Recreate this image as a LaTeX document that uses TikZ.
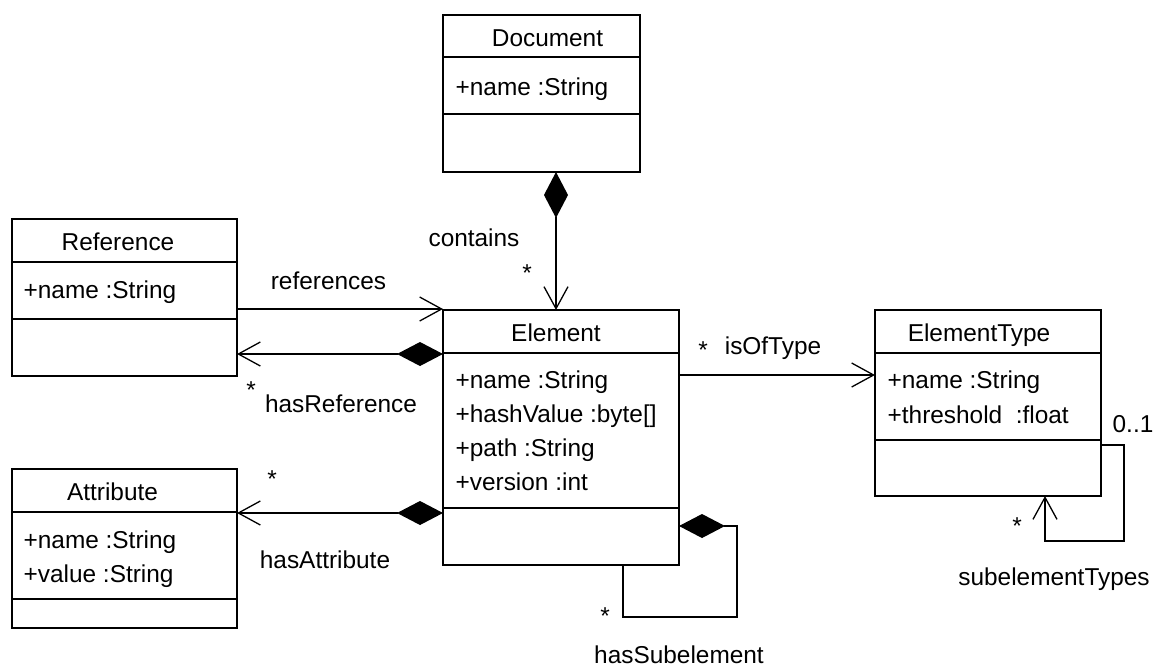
\documentclass[tikz,border=0pt]{standalone}
\usepackage{fontspec}
\setmainfont{Liberation Sans}
\usetikzlibrary{arrows.meta}

\begin{document}
\begin{tikzpicture}[x=0.5pt, y=-0.5pt, line width=0.65pt,
    font=\fontsize{12.2}{14}\selectfont,
    classbox/.style={draw, inner sep=0pt, outer sep=0pt, anchor=north west},
    clsname/.style={anchor=base, inner sep=0pt},
    attr/.style={anchor=base west, inner sep=0pt},
    lbl/.style={anchor=base, inner sep=0pt},
    comp/.style={{Diamond[length=23pt, width=12pt]}-{Straight Barb[length=11pt, width=12pt]}},
    nav/.style={-{Straight Barb[length=11pt, width=12pt]}}]
  \useasboundingbox (0,0) rectangle (1158,666);

  % classes
  \node[classbox, minimum width=98.5pt, minimum height=78.5pt] (doc) at (443,15) {};
  \node[classbox, minimum width=112.5pt, minimum height=78.5pt] (ref) at (12,219) {};
  \node[classbox, minimum width=112.5pt, minimum height=79.5pt] (att) at (12,469) {};
  \node[classbox, minimum width=118pt, minimum height=127.5pt] (el) at (443,310) {};
  \node[classbox, minimum width=113pt, minimum height=93pt] (et) at (875,310) {};

  \draw ([yshift=-21pt]doc.north west) -- ([yshift=-21pt]doc.north east)
        ([yshift=-49.5pt]doc.north west) -- ([yshift=-49.5pt]doc.north east);
  \draw ([yshift=-21.5pt]ref.north west) -- ([yshift=-21.5pt]ref.north east)
        ([yshift=-50pt]ref.north west) -- ([yshift=-50pt]ref.north east);
  \draw ([yshift=-21.5pt]att.north west) -- ([yshift=-21.5pt]att.north east)
        ([yshift=-65pt]att.north west) -- ([yshift=-65pt]att.north east);
  \draw ([yshift=-21.5pt]el.north west) -- ([yshift=-21.5pt]el.north east)
        ([yshift=-99pt]el.north west) -- ([yshift=-99pt]el.north east);
  \draw ([yshift=-21.5pt]et.north west) -- ([yshift=-21.5pt]et.north east)
        ([yshift=-65pt]et.north west) -- ([yshift=-65pt]et.north east);

  \node[clsname] (doctitle) at (547.5,46) {Document};
  \node[clsname] (reftitle) at (118,250) {Reference};
  \node[clsname] (atttitle) at (112.5,500) {Attribute};
  \node[clsname] (eltitle) at (556,341) {Element};
  \node[clsname] (ettitle) at (979,341) {ElementType};

  \node[attr] (docname) at (455,95) {+name :String};
  \node[attr] (refname) at (23,298) {+name :String};
  \node[attr] (attname) at (23,548) {+name :String};
  \node[attr] (attvalue) at (23,582) {+value :String};
  \node[attr] (elname) at (455,388) {+name :String};
  \node[attr] (elhash) at (455,422) {+hashValue :byte[]};
  \node[attr] (elpath) at (455,456) {+path :String};
  \node[attr] (elversion) at (455,490) {+version :int};
  \node[attr] (etname) at (887,388) {+name :String};
  \node[attr] (etthreshold) at (887,423) {+threshold\ \ :float};

  % associations
  \draw[comp] ([xshift=7.25pt]doc.south) -- ([xshift=7.25pt]doc.south |- el.north);
  \draw[nav] ([yshift=-45pt]ref.north east) -- ([yshift=-45pt]ref.north east -| el.west);
  \draw[comp] ([yshift=-67.5pt]ref.north east -| el.west) -- ([yshift=-67.5pt]ref.north east);
  \draw[comp] ([yshift=-22pt]att.north east -| el.west) -- ([yshift=-22pt]att.north east);
  \draw[nav] ([yshift=-32.5pt]el.north east) -- ([yshift=-32.5pt]el.north east -| et.west);
  \draw[{Diamond[length=23pt, width=12pt]}-] ([yshift=-108pt]el.north east) -- ++(58,0)
        |- ([xshift=31pt, yshift=-26pt]el.south) -- ([xshift=31pt]el.south);
  \draw[nav] ([yshift=-67.5pt]et.north east) -- ++(23,0)
        |- ([xshift=28.5pt, yshift=-22.5pt]et.south) -- ([xshift=28.5pt]et.south);

  % labels
  \node[lbl] (containslbl) at (474,246) {contains};
  \node[lbl] (containsstar) at (527,281) {*};
  \node[lbl] (referenceslbl) at (328.5,289) {references};
  \node[lbl] (hasrefstar) at (251,398) {*};
  \node[lbl] (hasreflbl) at (341,412) {hasReference};
  \node[lbl] (hasattstar) at (272,487) {*};
  \node[lbl] (hasattlbl) at (325,568) {hasAttribute};
  \node[lbl] (typestar) at (703,358) {*};
  \node[lbl] (typelbl) at (773,354) {isOfType};
  \node[lbl] (substar) at (605,624) {*};
  \node[lbl] (sublbl) at (679,663) {hasSubelement};
  \node[lbl] (subtypestar) at (1017,534) {*};
  \node[lbl] (subtypelbl) at (1054,585) {subelementTypes};
  \node[lbl] (subtypemult) at (1133,432) {0..1};
\end{tikzpicture}
\end{document}
